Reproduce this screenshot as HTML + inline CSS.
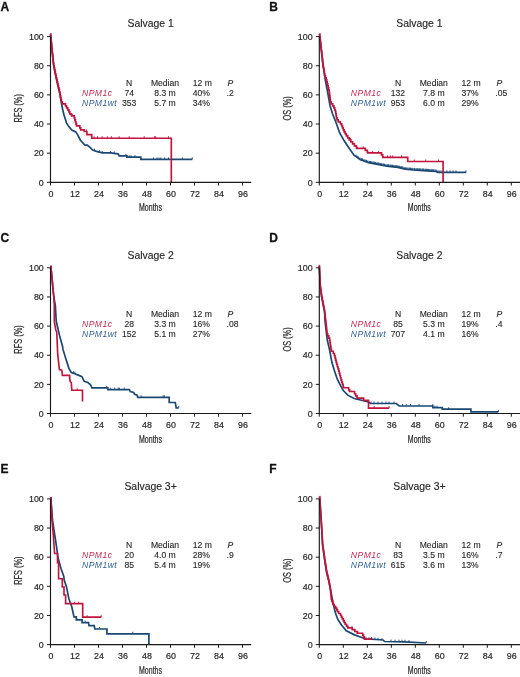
<!DOCTYPE html><html><head><meta charset="utf-8"><style>
html,body{margin:0;padding:0;background:#fff;width:520px;height:677px;overflow:hidden}
svg{display:block;filter:blur(0.35px)}
text{font-family:"Liberation Sans",sans-serif;fill:#262626}
.lab{font-size:12px;font-weight:bold;fill:#111;stroke:#111;stroke-width:0.3px}
.ttl{font-size:10.4px;stroke:#262626;stroke-width:0.15px}
.cond{font-size:10.0px;stroke:#262626;stroke-width:0.22px}
.tk{font-size:8.9px;stroke:#262626;stroke-width:0.18px}
.lg{font-size:8.6px;stroke:#262626;stroke-width:0.12px}
</style></head><body>
<svg width="520" height="677" viewBox="0 0 520 677">
<g transform="translate(0.00 0.00)">
<text x="0.4" y="10.7" class="lab">A</text>
<text x="150.6" y="27.4" class="ttl" text-anchor="middle">Salvage 1</text>
<text class="cond" transform="translate(21.9 108.3) rotate(-90) scale(0.74 1)" text-anchor="middle">RFS (%)</text>
<text class="cond" transform="translate(150.5 211.3) scale(0.70 1)" text-anchor="middle">Months</text>
<path d="M50.50 33.80 L52.00 50.00 L53.70 65.60 L55.80 76.00 L57.60 84.00 L59.50 92.00 L61.00 100.00 L61.60 104.00 L62.60 109.20 L64.00 115.00 L65.30 119.00 L66.50 123.00 L68.80 126.60 L71.80 130.00 L75.70 131.90 L78.00 135.40 L80.30 140.00 L83.00 143.00 L85.00 145.20 L87.40 145.20 L90.80 148.10 L92.70 150.00 L96.50 151.40 L102.30 152.90 L111.00 152.90 L113.80 153.40 L118.20 153.80 L119.10 155.80 L126.90 155.80 L126.90 157.20 L140.80 157.20 L140.80 159.40 L192.30 159.40" fill="none" stroke="#1b4873" stroke-width="1.7" stroke-linejoin="miter" stroke-linecap="butt"/>
<path d="M94.60 150.70 v-2.00M99.40 152.15 v-2.00M102.30 152.90 v-2.00M110.50 152.90 v-2.00M114.30 153.45 v-2.00M125.90 155.80 v-2.00M129.20 157.20 v-2.00M131.00 157.20 v-2.00M135.00 157.20 v-2.00M153.50 159.40 v-2.00M157.00 159.40 v-2.00M159.00 159.40 v-2.00M160.80 159.40 v-2.00M164.60 159.40 v-2.00M168.50 159.40 v-2.00M182.30 159.40 v-2.00M192.30 159.40 v-2.00" fill="none" stroke="#1b4873" stroke-width="0.9"/>
<path d="M50.50 33.80 L50.69 33.80 L50.69 35.80 L50.87 35.80 L50.87 37.80 L51.06 37.80 L51.06 39.80 L51.24 39.80 L51.24 41.80 L51.43 41.80 L51.43 43.80 L51.61 43.80 L51.61 45.80 L51.80 45.80 L51.80 47.80 L51.98 47.80 L51.98 49.80 L52.20 49.80 L52.20 51.80 L52.41 51.80 L52.41 53.80 L52.63 53.80 L52.63 55.80 L52.85 55.80 L52.85 57.80 L53.07 57.80 L53.07 59.80 L53.29 59.80 L53.29 61.80 L53.50 61.80 L53.50 63.80 L53.74 63.80 L53.74 65.80 L54.14 65.80 L54.14 67.80 L54.55 67.80 L54.55 69.80 L54.95 69.80 L54.95 71.80 L55.36 71.80 L55.36 73.80 L55.76 73.80 L55.76 75.80 L56.20 75.80 L56.20 77.80 L56.66 77.80 L56.66 79.80 L57.10 79.80 L57.10 81.80 L57.55 81.80 L57.55 83.80 L58.03 83.80 L58.03 85.80 L58.50 85.80 L58.50 87.80 L58.98 87.80 L58.98 89.80 L59.45 89.80 L59.45 91.80 L59.84 91.80 L59.84 93.80 L60.21 93.80 L60.21 95.80 L60.59 95.80 L60.59 97.80 L60.96 97.80 L60.96 99.80 L61.47 99.80 L61.47 101.80 L62.25 101.80 L62.25 103.80 L65.46 103.80 L65.46 105.80 L66.56 105.80 L66.56 107.80 L67.77 107.80 L67.77 109.80 L68.93 109.80 L68.93 111.80 L69.79 111.80 L69.79 113.80 L71.46 113.80 L71.46 115.80 L74.23 115.80 L74.23 117.80 L74.79 117.80 L74.79 119.80 L75.36 119.80 L75.36 121.80 L75.93 121.80 L75.93 123.80 L76.50 123.80 L76.50 125.80 L79.77 125.80 L79.77 127.80 L80.66 127.80 L80.66 129.80 L84.20 129.80 L84.20 131.50 L86.90 131.50 L86.90 134.60 L91.70 134.60 L91.70 138.20 L171.30 138.20 L171.30 182.20" fill="none" stroke="#c0143c" stroke-width="1.65" stroke-linejoin="miter" stroke-linecap="butt"/>
<path d="M72.20 115.80 v-2.00M86.40 131.50 v-2.00M94.10 138.20 v-2.00M97.50 138.20 v-2.00M102.30 138.20 v-2.00M107.30 138.20 v-2.00M111.40 138.20 v-2.00M119.10 138.20 v-2.00M129.20 138.20 v-2.00M144.20 138.20 v-2.00M154.60 138.20 v-2.00M155.70 138.20 v-2.00M168.50 138.20 v-2.00" fill="none" stroke="#c0143c" stroke-width="0.9"/>
<path d="M50.50 36.60 V182.30 H251.2" fill="none" stroke="#1a1a1a" stroke-width="1.15"/>
<text x="43.8" y="185.50" class="tk" text-anchor="end">0</text>
<text x="43.8" y="156.36" class="tk" text-anchor="end">20</text>
<text x="43.8" y="127.22" class="tk" text-anchor="end">40</text>
<text x="43.8" y="98.08" class="tk" text-anchor="end">60</text>
<text x="43.8" y="68.94" class="tk" text-anchor="end">80</text>
<text x="43.8" y="39.80" class="tk" text-anchor="end">100</text>
<text x="51.00" y="196.9" class="tk" text-anchor="middle">0</text>
<text x="75.00" y="196.9" class="tk" text-anchor="middle">12</text>
<text x="99.00" y="196.9" class="tk" text-anchor="middle">24</text>
<text x="123.00" y="196.9" class="tk" text-anchor="middle">36</text>
<text x="147.00" y="196.9" class="tk" text-anchor="middle">48</text>
<text x="171.00" y="196.9" class="tk" text-anchor="middle">60</text>
<text x="195.00" y="196.9" class="tk" text-anchor="middle">72</text>
<text x="219.00" y="196.9" class="tk" text-anchor="middle">84</text>
<text x="243.00" y="196.9" class="tk" text-anchor="middle">96</text>
<path d="M47.00 182.30 H50.50M47.00 153.16 H50.50M47.00 124.02 H50.50M47.00 94.88 H50.50M47.00 65.74 H50.50M47.00 36.60 H50.50M50.50 182.30 V185.50M74.50 182.30 V185.50M98.50 182.30 V185.50M122.50 182.30 V185.50M146.50 182.30 V185.50M170.50 182.30 V185.50M194.50 182.30 V185.50M218.50 182.30 V185.50M242.50 182.30 V185.50" fill="none" stroke="#1a1a1a" stroke-width="1"/>
<text y="85.6" class="lg"><tspan x="129.2" text-anchor="middle">N</tspan><tspan x="165" text-anchor="middle">Median</tspan><tspan x="192.7">12 m</tspan><tspan x="227.6" font-style="italic">P</tspan></text>
<text x="82" y="95.9" class="lg" letter-spacing="0.45" font-style="italic" style="fill:#c42a52;stroke:none">NPM1c</text>
<text x="129.2" y="95.9" class="lg" text-anchor="middle">74</text>
<text x="165" y="95.9" class="lg" text-anchor="middle">8.3 m</text>
<text x="192.7" y="95.9" class="lg">40%</text>
<text x="226.5" y="95.9" class="lg">.2</text>
<text x="82" y="106.2" class="lg" letter-spacing="0.45" font-style="italic" style="fill:#2f5f92;stroke:none">NPM1wt</text>
<text x="129.2" y="106.2" class="lg" text-anchor="middle">353</text>
<text x="165" y="106.2" class="lg" text-anchor="middle">5.7 m</text>
<text x="192.7" y="106.2" class="lg">34%</text>
</g>
<g transform="translate(268.80 0.00)">
<text x="0.4" y="10.7" class="lab">B</text>
<text x="150.6" y="27.4" class="ttl" text-anchor="middle">Salvage 1</text>
<text class="cond" transform="translate(21.9 108.3) rotate(-90) scale(0.74 1)" text-anchor="middle">OS (%)</text>
<text class="cond" transform="translate(150.5 211.3) scale(0.70 1)" text-anchor="middle">Months</text>
<path d="M50.70 33.80 L54.30 65.80 L56.00 76.20 L56.50 80.00 L58.90 92.50 L61.30 106.00 L63.70 113.70 L67.10 122.30 L70.80 132.70 L75.40 140.80 L80.00 147.70 L85.20 155.20 L91.60 159.80 L99.70 162.70 L108.90 164.40 L118.10 166.20 L128.90 167.40 L136.60 169.20 L144.30 170.00 L158.10 170.80 L167.40 171.50 L168.90 172.30 L197.40 172.30" fill="none" stroke="#1b4873" stroke-width="1.7" stroke-linejoin="miter" stroke-linecap="butt"/>
<path d="M93.20 160.37 v-2.00M97.20 161.80 v-2.00M101.20 162.98 v-2.00M105.20 163.72 v-2.00M109.20 164.46 v-2.00M112.20 165.05 v-2.00M115.20 165.63 v-2.00M119.20 166.32 v-2.00M122.20 166.66 v-2.00M124.20 166.88 v-2.00M127.20 167.21 v-2.00M130.20 167.70 v-2.00M133.20 168.41 v-2.00M141.20 169.68 v-2.00M143.20 169.89 v-2.00M148.20 170.23 v-2.00M151.20 170.40 v-2.00M154.20 170.57 v-2.00M157.20 170.75 v-2.00M160.20 170.96 v-2.00M164.20 171.26 v-2.00M172.20 172.30 v-2.00M178.20 172.30 v-2.00M181.20 172.30 v-2.00M184.20 172.30 v-2.00M187.20 172.30 v-2.00M197.20 172.30 v-2.00M87.20 156.64 v-2.00M88.50 157.57 v-2.00M89.80 158.51 v-2.00M91.10 159.44 v-2.00M92.40 160.09 v-2.00M93.70 160.55 v-2.00M95.00 161.02 v-2.00M96.30 161.48 v-2.00M97.60 161.95 v-2.00M98.90 162.41 v-2.00M100.20 162.79 v-2.00M101.50 163.03 v-2.00M102.80 163.27 v-2.00M104.10 163.51 v-2.00M105.40 163.75 v-2.00M106.70 163.99 v-2.00M108.00 164.23 v-2.00M109.30 164.48 v-2.00M110.60 164.73 v-2.00M111.90 164.99 v-2.00M113.20 165.24 v-2.00M114.50 165.50 v-2.00M115.80 165.75 v-2.00M117.10 166.00 v-2.00M118.40 166.23 v-2.00M119.70 166.38 v-2.00M121.00 166.52 v-2.00M122.30 166.67 v-2.00M123.60 166.81 v-2.00M124.90 166.96 v-2.00M126.20 167.10 v-2.00M127.50 167.24 v-2.00M128.80 167.39 v-2.00M130.10 167.68 v-2.00M131.40 167.98 v-2.00M132.70 168.29 v-2.00M134.00 168.59 v-2.00M135.30 168.90 v-2.00M136.60 169.20 v-2.00M137.90 169.34 v-2.00M139.20 169.47 v-2.00M140.50 169.61 v-2.00M141.80 169.74 v-2.00M143.10 169.88 v-2.00M144.40 170.01 v-2.00M145.70 170.08 v-2.00M147.00 170.16 v-2.00M148.30 170.23 v-2.00M149.60 170.31 v-2.00M150.90 170.38 v-2.00M152.20 170.46 v-2.00M153.50 170.53 v-2.00M154.80 170.61 v-2.00M156.10 170.68 v-2.00M157.40 170.76 v-2.00M158.70 170.85 v-2.00M160.00 170.94 v-2.00M161.30 171.04 v-2.00M162.60 171.14 v-2.00M163.90 171.24 v-2.00M165.20 171.33 v-2.00M166.50 171.43 v-2.00M167.80 171.71 v-2.00M169.10 172.30 v-2.00M170.40 172.30 v-2.00" fill="none" stroke="#1b4873" stroke-width="0.9"/>
<path d="M50.70 33.80 L50.92 33.80 L50.92 35.80 L51.15 35.80 L51.15 37.80 L51.37 37.80 L51.37 39.80 L51.60 39.80 L51.60 41.80 L51.82 41.80 L51.82 43.80 L52.05 43.80 L52.05 45.80 L52.27 45.80 L52.27 47.80 L52.50 47.80 L52.50 49.80 L52.73 49.80 L52.73 51.80 L52.95 51.80 L52.95 53.80 L53.18 53.80 L53.18 55.80 L53.40 55.80 L53.40 57.80 L53.63 57.80 L53.63 59.80 L53.85 59.80 L53.85 61.80 L54.08 61.80 L54.08 63.80 L54.30 63.80 L54.30 65.80 L54.63 65.80 L54.63 67.80 L54.95 67.80 L54.95 69.80 L55.28 69.80 L55.28 71.80 L55.61 71.80 L55.61 73.80 L55.93 73.80 L55.93 75.80 L56.61 75.80 L56.61 77.80 L57.37 77.80 L57.37 79.80 L57.90 79.80 L57.90 81.80 L58.39 81.80 L58.39 83.80 L58.89 83.80 L58.89 85.80 L59.38 85.80 L59.38 87.80 L59.88 87.80 L59.88 89.80 L60.34 89.80 L60.34 91.80 L60.60 91.80 L60.60 93.80 L60.86 93.80 L60.86 95.80 L61.11 95.80 L61.11 97.80 L61.37 97.80 L61.37 99.80 L61.63 99.80 L61.63 101.80 L62.33 101.80 L62.33 103.80 L63.86 103.80 L63.86 105.80 L65.06 105.80 L65.06 107.80 L65.85 107.80 L65.85 109.80 L66.62 109.80 L66.62 111.80 L66.98 111.80 L66.98 113.80 L67.35 113.80 L67.35 115.80 L67.71 115.80 L67.71 117.80 L68.23 117.80 L68.23 119.80 L69.41 119.80 L69.41 121.80 L71.53 121.80 L71.53 123.80 L72.95 123.80 L72.95 125.80 L73.70 125.80 L73.70 127.80 L74.45 127.80 L74.45 129.80 L75.33 129.80 L75.33 131.80 L76.41 131.80 L76.41 133.80 L77.48 133.80 L77.48 135.80 L78.92 135.80 L78.92 137.80 L80.44 137.80 L80.44 139.80 L82.07 139.80 L82.07 141.80 L83.81 141.80 L83.81 143.80 L85.60 143.80 L85.60 145.80 L87.60 145.80 L87.60 147.80 L88.10 147.80 L88.10 148.30 L93.90 148.30 L96.50 148.30 L96.50 150.30 L98.50 150.30 L98.50 152.30 L99.10 152.30 L99.10 152.90 L111.20 152.90 L112.68 152.90 L112.68 154.90 L113.87 154.90 L113.87 156.90 L114.10 156.90 L114.10 157.30 L138.90 157.30 L138.90 161.50 L174.30 161.50 L174.30 182.20" fill="none" stroke="#c0143c" stroke-width="1.65" stroke-linejoin="miter" stroke-linecap="butt"/>
<path d="M81.70 139.80 v-2.00M94.50 148.30 v-2.00M103.70 152.90 v-2.00M109.80 152.90 v-2.00M118.70 157.30 v-2.00M121.60 157.30 v-2.00M123.90 157.30 v-2.00M132.70 157.30 v-2.00M145.50 161.50 v-2.00M156.90 161.50 v-2.00M169.70 161.50 v-2.00" fill="none" stroke="#c0143c" stroke-width="0.9"/>
<path d="M50.50 36.60 V182.30 H251.2" fill="none" stroke="#1a1a1a" stroke-width="1.15"/>
<text x="43.8" y="185.50" class="tk" text-anchor="end">0</text>
<text x="43.8" y="156.36" class="tk" text-anchor="end">20</text>
<text x="43.8" y="127.22" class="tk" text-anchor="end">40</text>
<text x="43.8" y="98.08" class="tk" text-anchor="end">60</text>
<text x="43.8" y="68.94" class="tk" text-anchor="end">80</text>
<text x="43.8" y="39.80" class="tk" text-anchor="end">100</text>
<text x="51.00" y="196.9" class="tk" text-anchor="middle">0</text>
<text x="75.00" y="196.9" class="tk" text-anchor="middle">12</text>
<text x="99.00" y="196.9" class="tk" text-anchor="middle">24</text>
<text x="123.00" y="196.9" class="tk" text-anchor="middle">36</text>
<text x="147.00" y="196.9" class="tk" text-anchor="middle">48</text>
<text x="171.00" y="196.9" class="tk" text-anchor="middle">60</text>
<text x="195.00" y="196.9" class="tk" text-anchor="middle">72</text>
<text x="219.00" y="196.9" class="tk" text-anchor="middle">84</text>
<text x="243.00" y="196.9" class="tk" text-anchor="middle">96</text>
<path d="M47.00 182.30 H50.50M47.00 153.16 H50.50M47.00 124.02 H50.50M47.00 94.88 H50.50M47.00 65.74 H50.50M47.00 36.60 H50.50M50.50 182.30 V185.50M74.50 182.30 V185.50M98.50 182.30 V185.50M122.50 182.30 V185.50M146.50 182.30 V185.50M170.50 182.30 V185.50M194.50 182.30 V185.50M218.50 182.30 V185.50M242.50 182.30 V185.50" fill="none" stroke="#1a1a1a" stroke-width="1"/>
<text y="85.6" class="lg"><tspan x="129.2" text-anchor="middle">N</tspan><tspan x="165" text-anchor="middle">Median</tspan><tspan x="192.7">12 m</tspan><tspan x="227.6" font-style="italic">P</tspan></text>
<text x="82" y="95.9" class="lg" letter-spacing="0.45" font-style="italic" style="fill:#c42a52;stroke:none">NPM1c</text>
<text x="129.2" y="95.9" class="lg" text-anchor="middle">132</text>
<text x="165" y="95.9" class="lg" text-anchor="middle">7.8 m</text>
<text x="192.7" y="95.9" class="lg">37%</text>
<text x="226.5" y="95.9" class="lg">.05</text>
<text x="82" y="106.2" class="lg" letter-spacing="0.45" font-style="italic" style="fill:#2f5f92;stroke:none">NPM1wt</text>
<text x="129.2" y="106.2" class="lg" text-anchor="middle">953</text>
<text x="165" y="106.2" class="lg" text-anchor="middle">6.0 m</text>
<text x="192.7" y="106.2" class="lg">29%</text>
</g>
<g transform="translate(0.00 231.20)">
<text x="0.4" y="10.7" class="lab">C</text>
<text x="150.6" y="27.4" class="ttl" text-anchor="middle">Salvage 2</text>
<text class="cond" transform="translate(21.9 108.3) rotate(-90) scale(0.74 1)" text-anchor="middle">RFS (%)</text>
<text class="cond" transform="translate(150.5 211.3) scale(0.70 1)" text-anchor="middle">Months</text>
<path d="M50.80 34.50 L53.80 65.80 L55.30 73.80 L56.25 90.10 L59.60 104.60 L62.50 115.10 L63.00 118.20 L65.90 127.70 L68.90 137.10 L71.30 141.30 L74.80 142.50 L78.90 144.20 L81.90 145.40 L84.25 150.10 L87.80 151.30 L90.70 153.70 L91.90 156.60 L107.80 156.60 L107.80 158.40 L129.40 158.40 L130.30 160.40 L133.75 161.30 L134.60 163.00 L137.20 163.90 L137.70 166.10 L169.20 166.10 L169.20 171.30 L175.30 171.30 L176.20 176.80 L178.75 176.80" fill="none" stroke="#1b4873" stroke-width="1.7" stroke-linejoin="miter" stroke-linecap="butt"/>
<path d="M73.50 142.05 v-2.00M74.80 142.50 v-2.00M106.60 156.60 v-2.00M110.40 158.40 v-2.00M114.70 158.40 v-2.00M118.20 158.40 v-2.00M119.40 158.40 v-2.00M124.20 158.40 v-2.00M141.20 166.10 v-2.00M163.20 166.10 v-2.00M164.40 166.10 v-2.00M178.75 176.80 v-2.00" fill="none" stroke="#1b4873" stroke-width="0.9"/>
<path d="M50.80 34.50 L53.80 65.80 L54.30 73.80 L54.30 90.10 L55.80 98.80 L56.70 100.70 L57.10 108.80 L57.70 123.00 L59.40 138.30 L61.80 138.90 L62.40 144.20 L69.50 144.20 L70.10 150.10 L71.30 151.30 L71.85 159.00 L82.50 159.00 L82.50 170.20" fill="none" stroke="#c0143c" stroke-width="1.65" stroke-linejoin="miter" stroke-linecap="butt"/>
<path d="M77.20 159.00 v-2.00" fill="none" stroke="#c0143c" stroke-width="0.9"/>
<path d="M50.50 36.60 V182.30 H251.2" fill="none" stroke="#1a1a1a" stroke-width="1.15"/>
<text x="43.8" y="185.50" class="tk" text-anchor="end">0</text>
<text x="43.8" y="156.36" class="tk" text-anchor="end">20</text>
<text x="43.8" y="127.22" class="tk" text-anchor="end">40</text>
<text x="43.8" y="98.08" class="tk" text-anchor="end">60</text>
<text x="43.8" y="68.94" class="tk" text-anchor="end">80</text>
<text x="43.8" y="39.80" class="tk" text-anchor="end">100</text>
<text x="51.00" y="196.9" class="tk" text-anchor="middle">0</text>
<text x="75.00" y="196.9" class="tk" text-anchor="middle">12</text>
<text x="99.00" y="196.9" class="tk" text-anchor="middle">24</text>
<text x="123.00" y="196.9" class="tk" text-anchor="middle">36</text>
<text x="147.00" y="196.9" class="tk" text-anchor="middle">48</text>
<text x="171.00" y="196.9" class="tk" text-anchor="middle">60</text>
<text x="195.00" y="196.9" class="tk" text-anchor="middle">72</text>
<text x="219.00" y="196.9" class="tk" text-anchor="middle">84</text>
<text x="243.00" y="196.9" class="tk" text-anchor="middle">96</text>
<path d="M47.00 182.30 H50.50M47.00 153.16 H50.50M47.00 124.02 H50.50M47.00 94.88 H50.50M47.00 65.74 H50.50M47.00 36.60 H50.50M50.50 182.30 V185.50M74.50 182.30 V185.50M98.50 182.30 V185.50M122.50 182.30 V185.50M146.50 182.30 V185.50M170.50 182.30 V185.50M194.50 182.30 V185.50M218.50 182.30 V185.50M242.50 182.30 V185.50" fill="none" stroke="#1a1a1a" stroke-width="1"/>
<text y="85.6" class="lg"><tspan x="129.2" text-anchor="middle">N</tspan><tspan x="165" text-anchor="middle">Median</tspan><tspan x="192.7">12 m</tspan><tspan x="227.6" font-style="italic">P</tspan></text>
<text x="82" y="95.9" class="lg" letter-spacing="0.45" font-style="italic" style="fill:#c42a52;stroke:none">NPM1c</text>
<text x="129.2" y="95.9" class="lg" text-anchor="middle">28</text>
<text x="165" y="95.9" class="lg" text-anchor="middle">3.3 m</text>
<text x="192.7" y="95.9" class="lg">16%</text>
<text x="226.5" y="95.9" class="lg">.08</text>
<text x="82" y="106.2" class="lg" letter-spacing="0.45" font-style="italic" style="fill:#2f5f92;stroke:none">NPM1wt</text>
<text x="129.2" y="106.2" class="lg" text-anchor="middle">152</text>
<text x="165" y="106.2" class="lg" text-anchor="middle">5.1 m</text>
<text x="192.7" y="106.2" class="lg">27%</text>
</g>
<g transform="translate(268.80 231.20)">
<text x="0.4" y="10.7" class="lab">D</text>
<text x="150.6" y="27.4" class="ttl" text-anchor="middle">Salvage 2</text>
<text class="cond" transform="translate(21.9 108.3) rotate(-90) scale(0.74 1)" text-anchor="middle">OS (%)</text>
<text class="cond" transform="translate(150.5 211.3) scale(0.70 1)" text-anchor="middle">Months</text>
<path d="M50.50 34.30 L51.50 55.80 L52.90 65.90 L55.80 80.80 L56.10 88.80 L58.40 108.40 L60.80 118.80 L63.10 131.10 L65.40 138.80 L68.50 148.00 L71.60 154.20 L74.70 159.60 L79.30 164.20 L85.40 167.30 L91.60 168.80 L99.70 170.60 L101.60 172.30 L127.50 172.30 L130.40 174.80 L164.00 174.80 L164.00 176.50 L173.50 176.50 L173.50 178.00 L202.10 178.00 L202.10 180.70 L229.60 180.70" fill="none" stroke="#1b4873" stroke-width="1.7" stroke-linejoin="miter" stroke-linecap="butt"/>
<path d="M102.20 172.30 v-2.00M105.20 172.30 v-2.00M109.20 172.30 v-2.00M113.20 172.30 v-2.00M117.20 172.30 v-2.00M120.20 172.30 v-2.00M125.20 172.30 v-2.00M133.70 174.80 v-2.00M137.50 174.80 v-2.00M141.80 174.80 v-2.00M150.20 174.80 v-2.00M164.00 174.80 v-2.00M166.10 176.50 v-2.00M168.20 176.50 v-2.00M179.90 178.00 v-2.00M229.60 180.70 v-2.00" fill="none" stroke="#1b4873" stroke-width="0.9"/>
<path d="M50.50 34.30 L50.60 34.30 L50.60 36.50 L50.70 36.50 L50.70 38.70 L50.81 38.70 L50.81 40.90 L50.91 40.90 L50.91 43.10 L51.01 43.10 L51.01 45.30 L51.11 45.30 L51.11 47.50 L51.22 47.50 L51.22 49.70 L51.32 49.70 L51.32 51.90 L51.42 51.90 L51.42 54.10 L51.57 54.10 L51.57 56.30 L51.87 56.30 L51.87 58.50 L52.18 58.50 L52.18 60.70 L52.48 60.70 L52.48 62.90 L52.79 62.90 L52.79 65.10 L53.17 65.10 L53.17 67.30 L53.60 67.30 L53.60 69.50 L54.03 69.50 L54.03 71.70 L54.46 71.70 L54.46 73.90 L54.89 73.90 L54.89 76.10 L55.31 76.10 L55.31 78.30 L55.74 78.30 L55.74 80.50 L56.01 80.50 L56.01 82.70 L56.26 82.70 L56.26 84.90 L56.51 84.90 L56.51 87.10 L56.76 87.10 L56.76 89.30 L57.01 89.30 L57.01 91.50 L57.26 91.50 L57.26 93.70 L57.50 93.70 L57.50 95.90 L57.75 95.90 L57.75 98.10 L58.00 98.10 L58.00 100.30 L58.25 100.30 L58.25 102.50 L58.85 102.50 L58.85 104.70 L59.95 104.70 L59.95 106.90 L60.81 106.90 L60.81 109.10 L61.15 109.10 L61.15 111.30 L61.49 111.30 L61.49 113.50 L61.83 113.50 L61.83 115.70 L62.17 115.70 L62.17 117.90 L62.59 117.90 L62.59 120.10 L64.46 120.10 L64.46 122.30 L65.67 122.30 L65.67 124.50 L66.23 124.50 L66.23 126.70 L66.78 126.70 L66.78 128.90 L67.33 128.90 L67.33 131.10 L67.91 131.10 L67.91 133.30 L68.57 133.30 L68.57 135.50 L69.22 135.50 L69.22 137.70 L69.88 137.70 L69.88 139.90 L70.46 139.90 L70.46 142.10 L71.03 142.10 L71.03 144.30 L71.60 144.30 L71.60 146.50 L72.17 146.50 L72.17 148.70 L72.83 148.70 L72.83 150.90 L73.57 150.90 L73.57 153.10 L74.30 153.10 L74.30 155.30 L74.70 155.30 L74.70 156.50 L78.50 156.50 L79.83 156.50 L79.83 158.70 L80.80 158.70 L80.80 160.30 L84.70 160.30 L85.78 160.30 L85.78 162.50 L86.85 162.50 L86.85 164.70 L88.27 164.70 L88.27 166.90 L94.80 166.90 L94.80 169.10 L99.70 169.10 L99.70 169.80 L99.70 176.90 L120.30 176.90" fill="none" stroke="#c0143c" stroke-width="1.65" stroke-linejoin="miter" stroke-linecap="butt"/>
<path d="M105.40 176.90 v-2.00M120.30 176.90 v-2.00" fill="none" stroke="#c0143c" stroke-width="0.9"/>
<path d="M50.50 36.60 V182.30 H251.2" fill="none" stroke="#1a1a1a" stroke-width="1.15"/>
<text x="43.8" y="185.50" class="tk" text-anchor="end">0</text>
<text x="43.8" y="156.36" class="tk" text-anchor="end">20</text>
<text x="43.8" y="127.22" class="tk" text-anchor="end">40</text>
<text x="43.8" y="98.08" class="tk" text-anchor="end">60</text>
<text x="43.8" y="68.94" class="tk" text-anchor="end">80</text>
<text x="43.8" y="39.80" class="tk" text-anchor="end">100</text>
<text x="51.00" y="196.9" class="tk" text-anchor="middle">0</text>
<text x="75.00" y="196.9" class="tk" text-anchor="middle">12</text>
<text x="99.00" y="196.9" class="tk" text-anchor="middle">24</text>
<text x="123.00" y="196.9" class="tk" text-anchor="middle">36</text>
<text x="147.00" y="196.9" class="tk" text-anchor="middle">48</text>
<text x="171.00" y="196.9" class="tk" text-anchor="middle">60</text>
<text x="195.00" y="196.9" class="tk" text-anchor="middle">72</text>
<text x="219.00" y="196.9" class="tk" text-anchor="middle">84</text>
<text x="243.00" y="196.9" class="tk" text-anchor="middle">96</text>
<path d="M47.00 182.30 H50.50M47.00 153.16 H50.50M47.00 124.02 H50.50M47.00 94.88 H50.50M47.00 65.74 H50.50M47.00 36.60 H50.50M50.50 182.30 V185.50M74.50 182.30 V185.50M98.50 182.30 V185.50M122.50 182.30 V185.50M146.50 182.30 V185.50M170.50 182.30 V185.50M194.50 182.30 V185.50M218.50 182.30 V185.50M242.50 182.30 V185.50" fill="none" stroke="#1a1a1a" stroke-width="1"/>
<text y="85.6" class="lg"><tspan x="129.2" text-anchor="middle">N</tspan><tspan x="165" text-anchor="middle">Median</tspan><tspan x="192.7">12 m</tspan><tspan x="227.6" font-style="italic">P</tspan></text>
<text x="82" y="95.9" class="lg" letter-spacing="0.45" font-style="italic" style="fill:#c42a52;stroke:none">NPM1c</text>
<text x="129.2" y="95.9" class="lg" text-anchor="middle">85</text>
<text x="165" y="95.9" class="lg" text-anchor="middle">5.3 m</text>
<text x="192.7" y="95.9" class="lg">19%</text>
<text x="226.5" y="95.9" class="lg">.4</text>
<text x="82" y="106.2" class="lg" letter-spacing="0.45" font-style="italic" style="fill:#2f5f92;stroke:none">NPM1wt</text>
<text x="129.2" y="106.2" class="lg" text-anchor="middle">707</text>
<text x="165" y="106.2" class="lg" text-anchor="middle">4.1 m</text>
<text x="192.7" y="106.2" class="lg">16%</text>
</g>
<g transform="translate(0.00 462.30)">
<text x="0.4" y="10.7" class="lab">E</text>
<text x="150.6" y="27.4" class="ttl" text-anchor="middle">Salvage 3+</text>
<text class="cond" transform="translate(21.9 108.3) rotate(-90) scale(0.74 1)" text-anchor="middle">RFS (%)</text>
<text class="cond" transform="translate(150.5 211.3) scale(0.70 1)" text-anchor="middle">Months</text>
<path d="M50.80 34.70 L52.50 57.70 L55.50 77.70 L56.50 84.20 L58.10 95.80 L61.00 106.20 L63.80 114.20 L64.20 117.70 L66.50 124.60 L68.80 136.20 L71.70 144.20 L74.00 154.60 L76.30 154.60 L76.30 157.50 L82.10 157.50 L82.10 160.40 L88.50 160.40 L89.00 163.30 L94.20 163.30 L94.80 166.70 L106.90 166.70 L106.90 171.50 L148.90 171.50 L148.90 182.20" fill="none" stroke="#1b4873" stroke-width="1.7" stroke-linejoin="miter" stroke-linecap="butt"/>
<path d="M76.80 157.50 v-2.00M85.20 160.40 v-2.00M99.40 166.70 v-2.00M132.80 171.50 v-2.00" fill="none" stroke="#1b4873" stroke-width="0.9"/>
<path d="M50.80 34.70 L52.00 57.70 L53.30 72.70 L54.00 83.10 L54.60 91.20 L57.50 91.20 L57.50 100.40 L58.60 100.40 L58.60 116.50 L62.30 116.50 L62.30 124.70 L64.00 124.70 L64.00 132.70 L65.60 132.70 L65.60 141.40 L82.70 141.40 L82.70 154.90 L101.20 154.90" fill="none" stroke="#c0143c" stroke-width="1.65" stroke-linejoin="miter" stroke-linecap="butt"/>
<path d="M74.60 141.40 v-2.00M78.70 141.40 v-2.00M87.10 154.90 v-2.00M101.20 154.90 v-2.00" fill="none" stroke="#c0143c" stroke-width="0.9"/>
<path d="M50.50 36.60 V182.30 H251.2" fill="none" stroke="#1a1a1a" stroke-width="1.15"/>
<text x="43.8" y="185.50" class="tk" text-anchor="end">0</text>
<text x="43.8" y="156.36" class="tk" text-anchor="end">20</text>
<text x="43.8" y="127.22" class="tk" text-anchor="end">40</text>
<text x="43.8" y="98.08" class="tk" text-anchor="end">60</text>
<text x="43.8" y="68.94" class="tk" text-anchor="end">80</text>
<text x="43.8" y="39.80" class="tk" text-anchor="end">100</text>
<text x="51.00" y="196.9" class="tk" text-anchor="middle">0</text>
<text x="75.00" y="196.9" class="tk" text-anchor="middle">12</text>
<text x="99.00" y="196.9" class="tk" text-anchor="middle">24</text>
<text x="123.00" y="196.9" class="tk" text-anchor="middle">36</text>
<text x="147.00" y="196.9" class="tk" text-anchor="middle">48</text>
<text x="171.00" y="196.9" class="tk" text-anchor="middle">60</text>
<text x="195.00" y="196.9" class="tk" text-anchor="middle">72</text>
<text x="219.00" y="196.9" class="tk" text-anchor="middle">84</text>
<text x="243.00" y="196.9" class="tk" text-anchor="middle">96</text>
<path d="M47.00 182.30 H50.50M47.00 153.16 H50.50M47.00 124.02 H50.50M47.00 94.88 H50.50M47.00 65.74 H50.50M47.00 36.60 H50.50M50.50 182.30 V185.50M74.50 182.30 V185.50M98.50 182.30 V185.50M122.50 182.30 V185.50M146.50 182.30 V185.50M170.50 182.30 V185.50M194.50 182.30 V185.50M218.50 182.30 V185.50M242.50 182.30 V185.50" fill="none" stroke="#1a1a1a" stroke-width="1"/>
<text y="85.6" class="lg"><tspan x="129.2" text-anchor="middle">N</tspan><tspan x="165" text-anchor="middle">Median</tspan><tspan x="192.7">12 m</tspan><tspan x="227.6" font-style="italic">P</tspan></text>
<text x="82" y="95.9" class="lg" letter-spacing="0.45" font-style="italic" style="fill:#c42a52;stroke:none">NPM1c</text>
<text x="129.2" y="95.9" class="lg" text-anchor="middle">20</text>
<text x="165" y="95.9" class="lg" text-anchor="middle">4.0 m</text>
<text x="192.7" y="95.9" class="lg">28%</text>
<text x="226.5" y="95.9" class="lg">.9</text>
<text x="82" y="106.2" class="lg" letter-spacing="0.45" font-style="italic" style="fill:#2f5f92;stroke:none">NPM1wt</text>
<text x="129.2" y="106.2" class="lg" text-anchor="middle">85</text>
<text x="165" y="106.2" class="lg" text-anchor="middle">5.4 m</text>
<text x="192.7" y="106.2" class="lg">19%</text>
</g>
<g transform="translate(268.80 462.30)">
<text x="0.4" y="10.7" class="lab">F</text>
<text x="150.6" y="27.4" class="ttl" text-anchor="middle">Salvage 3+</text>
<text class="cond" transform="translate(21.9 108.3) rotate(-90) scale(0.74 1)" text-anchor="middle">OS (%)</text>
<text class="cond" transform="translate(150.5 211.3) scale(0.70 1)" text-anchor="middle">Months</text>
<path d="M50.80 34.20 L52.90 66.20 L53.80 82.70 L56.10 98.90 L57.90 110.40 L60.20 119.60 L62.50 131.20 L64.20 140.70 L66.50 150.20 L68.90 156.90 L72.70 162.70 L77.50 168.50 L85.20 172.30 L92.90 175.20 L96.80 176.70 L107.00 177.20 L114.20 177.70 L115.80 179.20 L136.20 179.50 L157.40 180.70" fill="none" stroke="#1b4873" stroke-width="1.7" stroke-linejoin="miter" stroke-linecap="butt"/>
<path d="M97.20 176.72 v-2.00M100.20 176.87 v-2.00M103.20 177.01 v-2.00M106.20 177.16 v-2.00M109.20 177.35 v-2.00M113.20 177.63 v-2.00M122.20 179.29 v-2.00M126.20 179.35 v-2.00M130.20 179.41 v-2.00M133.20 179.46 v-2.00M136.20 179.50 v-2.00M140.20 179.73 v-2.00M157.40 180.70 v-2.00" fill="none" stroke="#1b4873" stroke-width="0.9"/>
<path d="M50.80 34.20 L50.92 34.20 L50.92 36.00 L51.04 36.00 L51.04 37.80 L51.15 37.80 L51.15 39.60 L51.27 39.60 L51.27 41.40 L51.39 41.40 L51.39 43.20 L51.51 43.20 L51.51 45.00 L51.63 45.00 L51.63 46.80 L51.74 46.80 L51.74 48.60 L51.86 48.60 L51.86 50.40 L51.98 50.40 L51.98 52.20 L52.10 52.20 L52.10 54.00 L52.22 54.00 L52.22 55.80 L52.34 55.80 L52.34 57.60 L52.45 57.60 L52.45 59.40 L52.57 59.40 L52.57 61.20 L52.69 61.20 L52.69 63.00 L52.81 63.00 L52.81 64.80 L52.92 64.80 L52.92 66.60 L53.02 66.60 L53.02 68.40 L53.12 68.40 L53.12 70.20 L53.22 70.20 L53.22 72.00 L53.31 72.00 L53.31 73.80 L53.41 73.80 L53.41 75.60 L53.51 75.60 L53.51 77.40 L53.61 77.40 L53.61 79.20 L53.71 79.20 L53.71 81.00 L53.81 81.00 L53.81 82.80 L54.07 82.80 L54.07 84.60 L54.33 84.60 L54.33 86.40 L54.58 86.40 L54.58 88.20 L54.84 88.20 L54.84 90.00 L55.09 90.00 L55.09 91.80 L55.35 91.80 L55.35 93.60 L55.60 93.60 L55.60 95.40 L55.86 95.40 L55.86 97.20 L56.12 97.20 L56.12 99.00 L56.40 99.00 L56.40 100.80 L56.68 100.80 L56.68 102.60 L56.96 102.60 L56.96 104.40 L57.24 104.40 L57.24 106.20 L57.52 106.20 L57.52 108.00 L57.81 108.00 L57.81 109.80 L58.20 109.80 L58.20 111.60 L58.65 111.60 L58.65 113.40 L59.10 113.40 L59.10 115.20 L59.55 115.20 L59.55 117.00 L60.00 117.00 L60.00 118.80 L60.37 118.80 L60.37 120.60 L60.68 120.60 L60.68 122.40 L61.00 122.40 L61.00 124.20 L61.31 124.20 L61.31 126.00 L61.61 126.00 L61.61 127.80 L61.79 127.80 L61.79 129.60 L61.97 129.60 L61.97 131.40 L62.15 131.40 L62.15 133.20 L62.33 133.20 L62.33 135.00 L62.51 135.00 L62.51 136.80 L62.97 136.80 L62.97 138.60 L63.72 138.60 L63.72 140.40 L64.46 140.40 L64.46 142.20 L65.38 142.20 L65.38 144.00 L66.76 144.00 L66.76 145.80 L68.00 145.80 L68.00 147.60 L68.62 147.60 L68.62 149.40 L69.90 149.40 L69.90 151.20 L71.70 151.20 L71.70 153.00 L72.65 153.00 L72.65 154.80 L73.55 154.80 L73.55 156.60 L74.45 156.60 L74.45 158.40 L75.35 158.40 L75.35 160.20 L76.32 160.20 L76.32 162.00 L77.66 162.00 L77.66 163.80 L79.00 163.80 L79.00 165.60 L83.39 165.60 L83.39 167.40 L86.05 167.40 L86.05 169.20 L88.41 169.20 L88.41 171.00 L93.90 171.00 L93.90 172.80 L94.73 172.80 L94.73 174.60 L95.57 174.60 L95.57 176.40 L95.80 176.40 L95.80 176.90 L102.70 176.90" fill="none" stroke="#c0143c" stroke-width="1.65" stroke-linejoin="miter" stroke-linecap="butt"/>
<path d="M83.20 165.60 v-2.00M89.20 171.00 v-2.00M102.70 176.90 v-2.00" fill="none" stroke="#c0143c" stroke-width="0.9"/>
<path d="M50.50 36.60 V182.30 H251.2" fill="none" stroke="#1a1a1a" stroke-width="1.15"/>
<text x="43.8" y="185.50" class="tk" text-anchor="end">0</text>
<text x="43.8" y="156.36" class="tk" text-anchor="end">20</text>
<text x="43.8" y="127.22" class="tk" text-anchor="end">40</text>
<text x="43.8" y="98.08" class="tk" text-anchor="end">60</text>
<text x="43.8" y="68.94" class="tk" text-anchor="end">80</text>
<text x="43.8" y="39.80" class="tk" text-anchor="end">100</text>
<text x="51.00" y="196.9" class="tk" text-anchor="middle">0</text>
<text x="75.00" y="196.9" class="tk" text-anchor="middle">12</text>
<text x="99.00" y="196.9" class="tk" text-anchor="middle">24</text>
<text x="123.00" y="196.9" class="tk" text-anchor="middle">36</text>
<text x="147.00" y="196.9" class="tk" text-anchor="middle">48</text>
<text x="171.00" y="196.9" class="tk" text-anchor="middle">60</text>
<text x="195.00" y="196.9" class="tk" text-anchor="middle">72</text>
<text x="219.00" y="196.9" class="tk" text-anchor="middle">84</text>
<text x="243.00" y="196.9" class="tk" text-anchor="middle">96</text>
<path d="M47.00 182.30 H50.50M47.00 153.16 H50.50M47.00 124.02 H50.50M47.00 94.88 H50.50M47.00 65.74 H50.50M47.00 36.60 H50.50M50.50 182.30 V185.50M74.50 182.30 V185.50M98.50 182.30 V185.50M122.50 182.30 V185.50M146.50 182.30 V185.50M170.50 182.30 V185.50M194.50 182.30 V185.50M218.50 182.30 V185.50M242.50 182.30 V185.50" fill="none" stroke="#1a1a1a" stroke-width="1"/>
<text y="85.6" class="lg"><tspan x="129.2" text-anchor="middle">N</tspan><tspan x="165" text-anchor="middle">Median</tspan><tspan x="192.7">12 m</tspan><tspan x="227.6" font-style="italic">P</tspan></text>
<text x="82" y="95.9" class="lg" letter-spacing="0.45" font-style="italic" style="fill:#c42a52;stroke:none">NPM1c</text>
<text x="129.2" y="95.9" class="lg" text-anchor="middle">83</text>
<text x="165" y="95.9" class="lg" text-anchor="middle">3.5 m</text>
<text x="192.7" y="95.9" class="lg">16%</text>
<text x="226.5" y="95.9" class="lg">.7</text>
<text x="82" y="106.2" class="lg" letter-spacing="0.45" font-style="italic" style="fill:#2f5f92;stroke:none">NPM1wt</text>
<text x="129.2" y="106.2" class="lg" text-anchor="middle">615</text>
<text x="165" y="106.2" class="lg" text-anchor="middle">3.6 m</text>
<text x="192.7" y="106.2" class="lg">13%</text>
</g>
</svg></body></html>
